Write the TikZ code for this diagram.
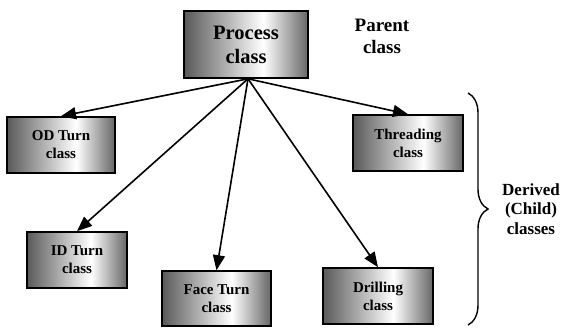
\documentclass[tikz,border=0pt]{standalone}
\usepackage{fontspec}
\setmainfont{Liberation Serif}
\usetikzlibrary{arrows.meta,decorations.pathreplacing}
\pgfdeclarehorizontalshading{boxshade}{100bp}{color(0bp)=(black!65); color(25bp)=(black!65); color(57bp)=(white); color(75bp)=(black!60); color(100bp)=(black!60)}
\tikzset{
  cls/.style={draw=black, line width=1.6pt, shading=boxshade, align=center, inner sep=0pt,
    font=\fontsize{15}{18}\selectfont\bfseries},
  big/.style={cls, font=\fontsize{20.5}{24}\selectfont\bfseries},
  lbl/.style={align=center, inner sep=0pt},
  arr/.style={line width=1.6pt, -{Triangle[length=15pt,width=12pt]}},
}
\begin{document}
\begin{tikzpicture}[x=1pt,y=-1pt]
\useasboundingbox (0,0) rectangle (573,327);
\node[big, minimum width=124pt, minimum height=67pt] (proc) at (246,44.5) {Process\\class};
\node[cls, minimum width=108pt, minimum height=56pt] (od) at (61,145) {OD Turn\\class};
\node[cls, minimum width=100pt, minimum height=56pt] (id) at (77,260) {ID Turn\\class};
\node[cls, minimum width=109pt, minimum height=55pt] (face) at (216.5,298.5) {Face Turn\\class};
\node[cls, minimum width=110pt, minimum height=56pt] (thr) at (408,143) {Threading\\class};
\node[cls, minimum width=110pt, minimum height=56pt] (dri) at (378,296) {Drilling\\class};
\node[lbl, font=\fontsize{19}{22}\selectfont\bfseries] (parent) at (382,36) {Parent\\class};
\node[lbl, font=\fontsize{17}{19.5}\selectfont\bfseries] (derived) at (531,209) {Derived\\(Child)\\classes};
\coordinate (src) at ([xshift=2pt]proc.south);
\draw[arr] (src) -- (od.north);
\draw[arr] (src) -- (id.north);
\draw[arr] (src) -- (face.north);
\draw[arr] (src) -- (thr.north);
\draw[arr] (src) -- (dri.north);
\coordinate (bt) at (468,93);
\coordinate (bb) at (468,325);
\draw[line width=1.4pt, decorate, decoration={brace, amplitude=20pt}] (bt) -- (bb);
\end{tikzpicture}
\end{document}
